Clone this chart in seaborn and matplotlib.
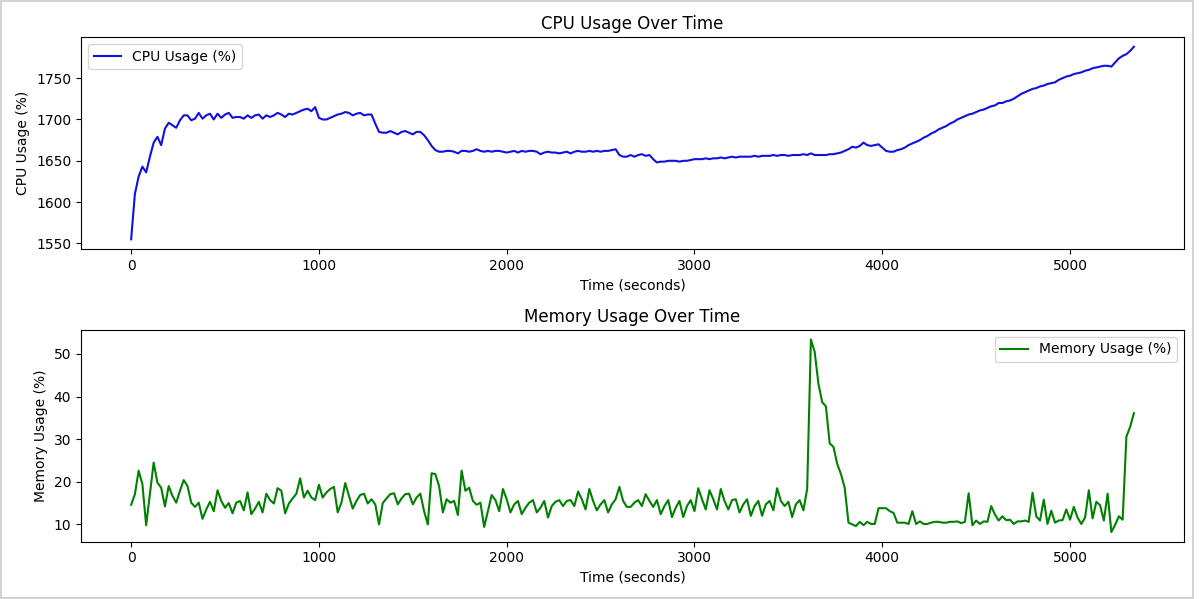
import numpy as np
import pandas as pd
import matplotlib
matplotlib.use("Agg")
import matplotlib.pyplot as plt
import seaborn as sns
from matplotlib.patches import Rectangle

# -------------------------------------------
# Data: one sample every 20 seconds
# -------------------------------------------
sample_interval_s = 20

cpu_usage = [
    1555, 1610, 1631, 1643, 1636, 1655, 1672, 1679, 1669, 1689,
    1696, 1693, 1690, 1699, 1705, 1705, 1699, 1701, 1708, 1701,
    1705, 1707, 1700, 1707, 1702, 1706, 1708, 1702, 1703, 1703,
    1701, 1705, 1702, 1705, 1706, 1701, 1705, 1703, 1705, 1708,
    1706, 1703, 1707, 1706, 1708, 1710, 1712, 1713, 1710, 1715,
    1702, 1700, 1700, 1702, 1704, 1706, 1707, 1709, 1708, 1705,
    1707, 1708, 1705, 1706, 1706, 1695, 1685, 1684, 1684, 1686,
    1684, 1682, 1685, 1686, 1684, 1682, 1685, 1685, 1681, 1675,
    1668, 1663, 1661, 1661, 1662, 1662, 1661, 1659, 1662, 1662,
    1661, 1662, 1664, 1662, 1661, 1662, 1661, 1662, 1662, 1661,
    1660, 1661, 1662, 1660, 1662, 1661, 1662, 1662, 1661, 1658,
    1660, 1661, 1660, 1660, 1659, 1660, 1661, 1659, 1661, 1662,
    1661, 1661, 1662, 1661, 1662, 1661, 1662, 1662, 1663, 1664,
    1657, 1655, 1655, 1657, 1655, 1657, 1658, 1656, 1657, 1652,
    1648, 1649, 1649, 1650, 1650, 1650, 1649, 1650, 1650, 1651,
    1652, 1652, 1652, 1653, 1652, 1653, 1653, 1654, 1653, 1654,
    1655, 1654, 1655, 1655, 1655, 1655, 1656, 1655, 1656, 1656,
    1656, 1657, 1656, 1657, 1657, 1656, 1657, 1657, 1657, 1658,
    1657, 1659, 1657, 1657, 1657, 1657, 1658, 1658, 1659, 1660,
    1662, 1664, 1667, 1666, 1668, 1672, 1669, 1668, 1669, 1670,
    1666, 1662, 1661, 1661, 1663, 1664, 1666, 1669, 1671, 1673,
    1675, 1678, 1680, 1683, 1685, 1688, 1690, 1692, 1695, 1697,
    1700, 1702, 1704, 1706, 1707, 1709, 1711, 1712, 1714, 1716,
    1717, 1720, 1720, 1722, 1723, 1725, 1728, 1731, 1733, 1735,
    1737, 1738, 1740, 1741, 1743, 1744, 1745, 1748, 1750, 1752,
    1753, 1755, 1756, 1757, 1759, 1760, 1762, 1763, 1764, 1765,
    1765, 1764, 1769, 1774, 1777, 1779, 1783, 1788,
]

memory_usage = [
    14.6, 17.1, 22.6, 19.4, 9.8, 17.1, 24.5, 19.8, 18.6, 14.2,
    19.0, 16.7, 15.1, 17.9, 20.4, 19.0, 15.1, 14.1, 15.1, 11.3,
    13.5, 15.3, 13.1, 18.0, 15.5, 13.9, 15.0, 12.6, 15.1, 15.5,
    13.3, 17.5, 12.4, 13.7, 15.3, 12.8, 17.2, 15.7, 14.9, 18.5,
    17.9, 12.6, 14.9, 16.1, 17.2, 20.8, 16.3, 17.9, 16.3, 15.7,
    19.3, 16.3, 17.5, 18.3, 18.8, 12.8, 15.1, 19.7, 16.7, 13.7,
    15.5, 16.9, 17.2, 14.9, 15.9, 14.7, 10.0, 15.0, 16.1, 17.1,
    17.3, 14.7, 16.1, 17.1, 17.2, 14.7, 16.3, 17.2, 13.1, 10.0,
    22.0, 21.8, 19.0, 12.8, 15.9, 15.1, 15.5, 12.2, 22.6, 17.9,
    18.6, 15.5, 14.6, 15.1, 9.4,
    13.1, 16.9, 15.7, 13.1, 18.3, 15.9, 12.8, 14.7, 15.5, 12.4,
    13.9, 15.1, 15.7, 12.8, 13.9, 15.5, 11.6, 14.3, 15.3, 15.7,
    14.3, 15.5, 15.7, 14.3, 17.7, 15.9, 13.5, 18.3, 15.5, 13.3,
    14.7, 15.7, 12.8, 14.7, 15.9, 18.8, 15.5, 14.1, 14.1, 15.1,
    15.7, 14.3, 17.1, 15.5, 14.1, 15.7, 12.4, 14.3, 15.7, 11.7,
    13.9, 15.5, 11.7, 14.3, 15.7, 13.1, 18.5, 15.9, 13.5, 18.0,
    15.9, 13.5, 18.3, 15.5, 13.5, 15.7, 15.9, 12.8, 14.7, 15.9,
    12.0, 14.3, 15.5, 12.0, 14.7, 15.5, 13.3, 18.5, 15.5, 14.3,
    15.3, 11.7, 14.7, 15.7, 13.3, 18.3,
    53.4, 50.5, 43.0, 38.7, 37.7, 29.0, 28.2, 24.2, 21.8, 18.6,
    10.4, 10.0, 9.6, 10.6, 9.8, 10.6, 10.1, 10.1, 13.8, 13.8,
    13.8, 13.1, 12.7, 10.4, 10.4,
    10.4, 10.1, 13.1, 10.1, 10.7, 10.1, 10.1, 10.4, 10.6, 10.6,
    10.4, 10.4, 10.6, 10.6, 10.7, 10.3, 10.6, 17.3, 9.8, 10.9,
    10.1, 10.7, 10.6, 14.3, 12.3, 10.9, 11.9, 11.0, 11.1, 10.1,
    10.7, 10.7, 10.9, 10.6, 17.4, 11.9, 10.9, 15.8, 10.1, 13.2,
    10.4, 10.9, 11.0, 13.5, 11.1, 14.1, 11.6, 10.1, 11.6, 18.0,
    11.4, 15.3, 14.5, 10.9, 17.2, 8.2, 9.9, 11.9, 11.1, 30.6,
    32.9, 36.1,
]

assert len(cpu_usage) == len(memory_usage), (len(cpu_usage), len(memory_usage))

df = pd.DataFrame({
    "time": np.arange(len(cpu_usage)) * sample_interval_s,
    "cpu": cpu_usage,
    "memory": memory_usage,
})

# -------------------------------------------
# Plot
# -------------------------------------------
fig, (ax1, ax2) = plt.subplots(2, 1, figsize=(12, 5.99), dpi=100)

sns.lineplot(data=df, x="time", y="cpu", ax=ax1, color="#1010e0", label="CPU Usage (%)")
ax1.set_title("CPU Usage Over Time")
ax1.set_xlabel("Time (seconds)")
ax1.set_ylabel("CPU Usage (%)")
ax1.legend(loc="upper left")

sns.lineplot(data=df, x="time", y="memory", ax=ax2, color="green", label="Memory Usage (%)")
ax2.set_title("Memory Usage Over Time")
ax2.set_xlabel("Time (seconds)")
ax2.set_ylabel("Memory Usage (%)")
ax2.legend(loc="upper right")

plt.subplots_adjust(left=0.0675, right=0.9867, top=0.938, bottom=0.0957, hspace=0.382)

# thin light frame around the picture
fig.patches.append(Rectangle((0.001, 0.001), 0.993, 0.997, transform=fig.transFigure,
                             fill=False, edgecolor="#cccccc", linewidth=1.2))

plt.savefig("out.png", dpi=100)
